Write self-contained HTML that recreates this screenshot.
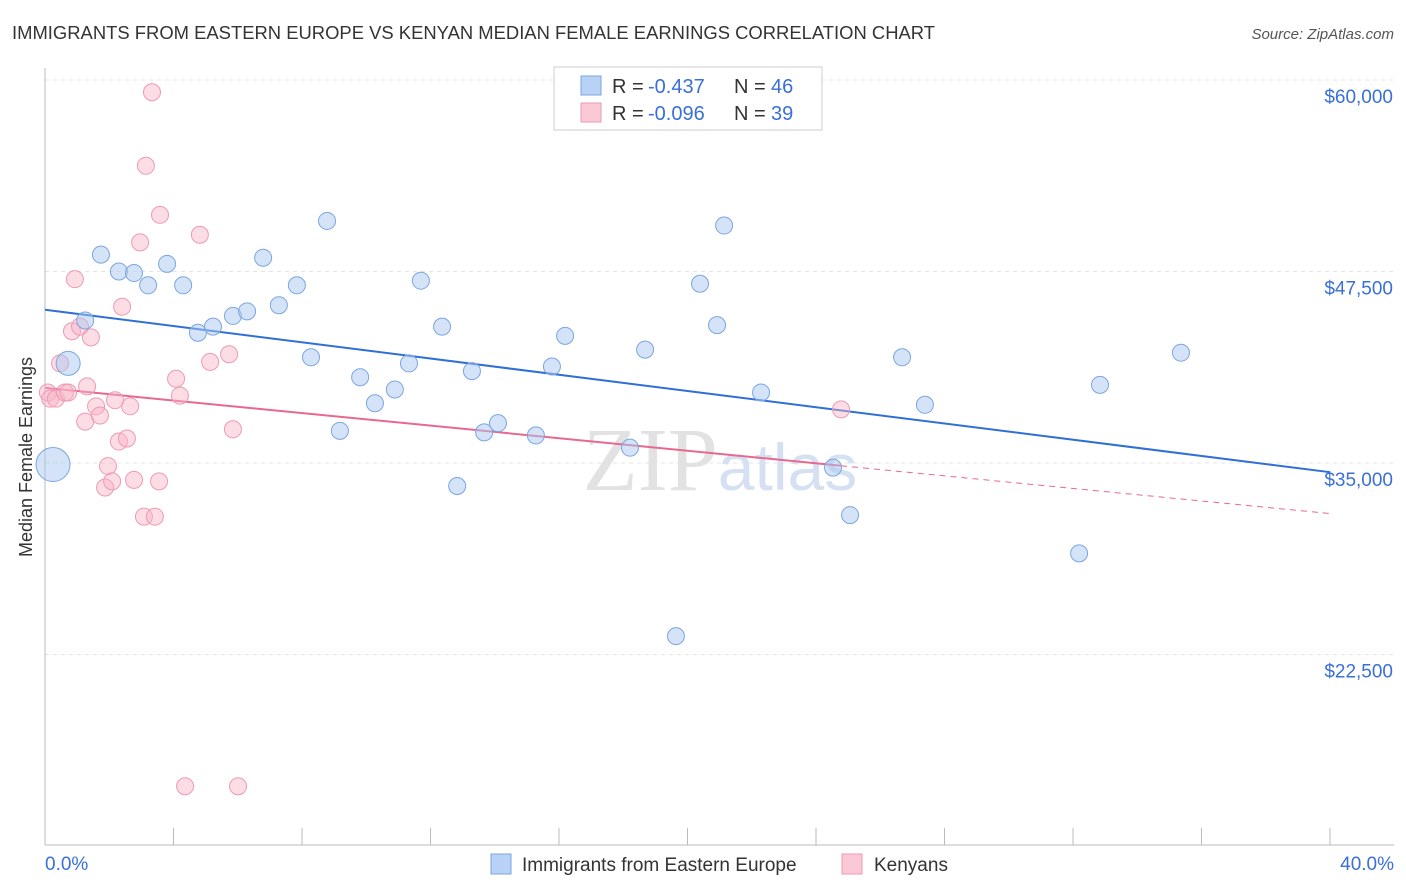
<!DOCTYPE html>
<html><head><meta charset="utf-8"><style>
body{margin:0;background:#fff;font-family:"Liberation Sans",sans-serif;}
svg{display:block}
</style></head><body>
<svg id="chart" width="1406" height="892">
<text x="12" y="39" font-size="18" fill="#333" textLength="923" lengthAdjust="spacingAndGlyphs">IMMIGRANTS FROM EASTERN EUROPE VS KENYAN MEDIAN FEMALE EARNINGS CORRELATION CHART</text>
<text x="1394" y="39" font-size="15" fill="#555" font-style="italic" text-anchor="end">Source: ZipAtlas.com</text>
<text x="32" y="457" font-size="18" fill="#333" text-anchor="middle" transform="rotate(-90 32 457)">Median Female Earnings</text>
<g id="grid"></g>
<text x="720" y="490" font-size="90" fill="#e2e2e2" text-anchor="middle" font-family="Liberation Serif,serif">ZIP<tspan fill="#d5e1f3" font-family="Liberation Sans,sans-serif" font-size="66">atlas</tspan></text>
<g id="lines"></g>
<g id="pts"></g>
<g>
<rect x="554" y="67" width="268" height="63" fill="#fff" stroke="#ccc"/>
<rect x="581" y="76" width="20" height="19" fill="#b8d2f5" stroke="#7ba6e0"/>
<text x="612" y="93" font-size="20" fill="#333">R =</text>
<text x="648" y="93" font-size="20" fill="#3a6fd8">-0.437</text>
<text x="734" y="93" font-size="20" fill="#333">N =</text>
<text x="771" y="93" font-size="20" fill="#3a6fd8">46</text>
<rect x="581" y="103" width="20" height="19" fill="#fbc8d6" stroke="#ee9ab2"/>
<text x="612" y="120" font-size="20" fill="#333">R =</text>
<text x="648" y="120" font-size="20" fill="#3a6fd8">-0.096</text>
<text x="734" y="120" font-size="20" fill="#333">N =</text>
<text x="771" y="120" font-size="20" fill="#3a6fd8">39</text>
</g>
<g>
<rect x="491" y="854" width="20" height="20" fill="#b8d2f5" stroke="#7ba6e0"/>
<text x="522" y="871" font-size="19" fill="#333">Immigrants from Eastern Europe</text>
<rect x="842" y="854" width="20" height="20" fill="#fbc8d6" stroke="#ee9ab2"/>
<text x="874" y="871" font-size="19" fill="#333">Kenyans</text>
</g>
</svg>
<script>
const yTicks=[60000,47500,35000,22500];
const yTickLabels=["$60,000","$47,500","$35,000","$22,500"];
const xTickLabels=["0.0%","40.0%"];
const blueX=[0.25,0.72,1.25,1.74,2.30,2.77,3.21,3.80,4.30,4.76,5.23,5.85,6.29,6.79,7.28,7.84,8.28,8.78,9.18,9.81,10.27,10.89,11.33,11.70,12.36,12.83,13.29,13.67,14.10,15.28,15.78,16.19,18.21,18.68,19.64,20.39,20.92,21.14,22.29,24.53,25.06,26.68,27.39,32.19,32.84,35.36];
const blueY=[34900,41500,44300,48600,47500,47400,46600,48000,46600,43500,43900,44600,44900,48400,45300,46600,41900,50800,37100,40600,38900,39800,41500,46900,43900,33500,41000,37000,37600,36800,41300,43300,36000,42400,23700,46700,44000,50500,39600,34700,31600,41900,38800,29100,40100,42200];
const pinkX=[0.09,0.16,0.34,0.47,0.62,0.72,0.84,0.93,1.09,1.25,1.31,1.43,1.59,1.71,1.87,1.96,2.09,2.18,2.30,2.40,2.55,2.65,2.77,2.96,3.08,3.14,3.33,3.42,3.55,3.58,4.08,4.20,4.36,4.82,5.14,5.73,5.85,6.01,24.78];
const pinkY=[39600,39200,39200,41500,39600,39600,43600,47000,43900,37700,40000,43200,38700,38100,33400,34800,33800,39100,36400,45200,36600,38700,33900,49400,31500,54400,59200,31500,33800,51200,40500,39400,13900,49900,41600,42100,37200,13900,38500];
const blueTrend=[45000,34400];
const pinkTrend=[39900,31700];
const NS="http://www.w3.org/2000/svg";
const X=v=>45+v*(1330-45)/40;
const Y=v=>80+(60000-v)*(463-80)/25000;
function mk(t,a,p){const e=document.createElementNS(NS,t);for(const k in a)e.setAttribute(k,a[k]);p.appendChild(e);return e;}
const grid=document.getElementById('grid');
yTicks.forEach((t,i)=>{
 const l=mk('line',{x1:45,x2:1394,y1:Y(t),y2:Y(t),stroke:'#e4e4e4','stroke-dasharray':'4,4'},grid);
 
 
 const tx=mk('text',{x:1393,y:Y(t)+23,'font-size':19,fill:'#3a6fd8','text-anchor':'end'},grid);
 tx.textContent=yTickLabels[i];
 
 
});
const ax=mk('line',{x1:45,x2:45,y1:68,y2:845,stroke:'#bbb'},grid);


const bx=mk('line',{x1:45,x2:1394,y1:845,y2:845,stroke:'#bbb'},grid);


for(let k=0;k<=10;k++){
 const t=mk('line',{x1:X(k*4),x2:X(k*4),y1:828,y2:845,stroke:'#bbb'},grid);
 
 
}
[[0,'start',45],[40,'end',1394]].forEach((d,i)=>{
 const t=mk('text',{x:d[2],y:870,'font-size':19,fill:'#3a6fd8','text-anchor':d[1]},grid);
 t.textContent=xTickLabels[i];
 
 
});
const lines=document.getElementById('lines');
const bl=mk('line',{x1:X(0),y1:Y(blueTrend[0]),x2:X(40),y2:Y(blueTrend[1]),stroke:'#2f6fd6','stroke-width':2},lines);


const pAt=x=>pinkTrend[0]+(pinkTrend[1]-pinkTrend[0])*x/40;
const maxP=Math.max(...pinkX);
const pl=mk('line',{x1:X(0),y1:Y(pAt(0)),x2:X(maxP),y2:Y(pAt(maxP)),stroke:'#e8688f','stroke-width':2},lines);


const pd=mk('line',{x1:X(maxP),y1:Y(pAt(maxP)),x2:X(40),y2:Y(pAt(40)),stroke:'#e8688f','stroke-width':1,'stroke-dasharray':'6,5'},lines);


const pts=document.getElementById('pts');
pinkX.forEach((x,i)=>{
 const c=mk('circle',{cx:X(x),cy:Y(pinkY[i]),r:8.5,fill:'rgba(248,180,200,0.45)',stroke:'#ee9ab2','stroke-width':1},pts);
 
 
});
blueX.forEach((x,i)=>{
 const r=i==0?17:(i==1?12:8.5);
 const c=mk('circle',{cx:X(x),cy:Y(blueY[i]),r:r,fill:'rgba(170,200,240,0.5)',stroke:'#7ba6e0','stroke-width':1},pts);
 
 
});
</script>
</body></html>
